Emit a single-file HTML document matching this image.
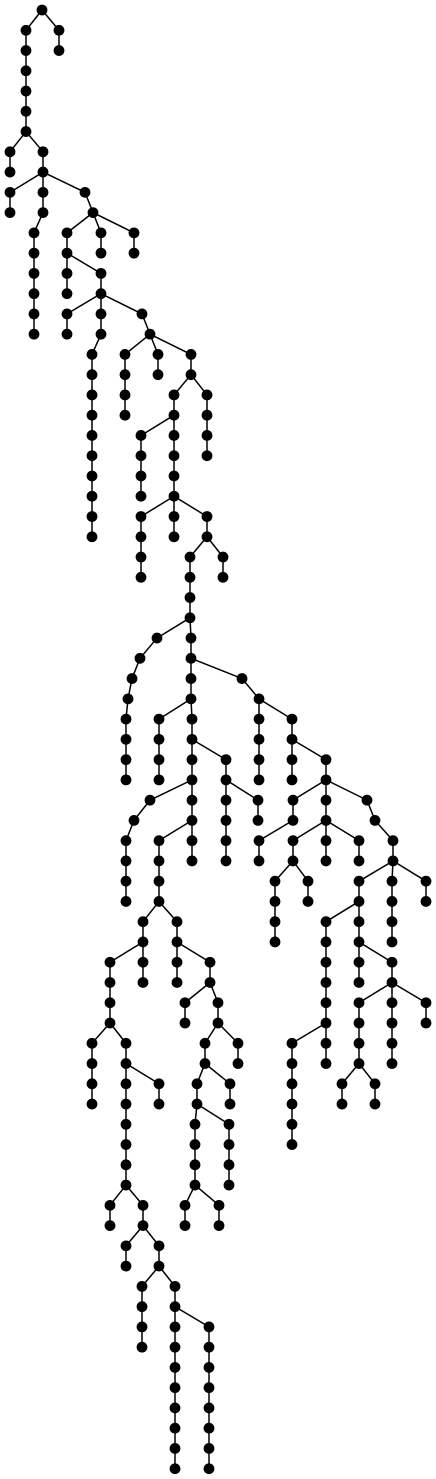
<!DOCTYPE html>
<html><head><meta charset="utf-8"><style>
html,body{margin:0;padding:0;background:#fff;}
svg{display:block;}
</style></head><body>
<svg id="tree" width="436" height="1479" viewBox="0 0 436 1479" xmlns="http://www.w3.org/2000/svg">
<g id="edges"></g>
<g id="nodes"></g>
</svg>
<script>
const X = [];
const D = [];
const P = [];
function add(x,d,p){X.push(x);D.push(d);P.push(p);return X.length-1;}
function chain(p,x,d,n){let l=p;for(let i=0;i<n;i++)l=add(x,d+i,l);return l;}

const r=add(42,0,-1);
chain(r,59,1,2);
const c6=chain(r,26,1,6);
chain(c6,10,7,2);
const n8=chain(c6,43,7,2);
chain(n8,10,9,2);
const n10=chain(n8,43,9,2);
chain(n10,34,11,6);
const n9b=add(85,9,n8);
const n10b=add(93,10,n9b);
const x12=chain(n10b,67,11,2);
chain(x12,67,13,2);
chain(n10b,101,11,2);
chain(n10b,134,11,2);
const y14=chain(x12,101,13,2);
chain(y14,67,15,2);
const z16=chain(y14,101,15,2);
chain(z16,92,17,10);
const w15=add(142,15,y14);
const w16=add(150,16,w15);
chain(w16,125,17,4);
chain(w16,158,17,2);
const v18=chain(w16,191,17,2);
chain(v18,207,19,4);
const u20=chain(v18,174,19,2);
chain(u20,141,21,4);
const s24=chain(u20,174,21,4);
chain(s24,141,25,4);
chain(s24,174,25,2);
const q26=chain(s24,207,25,2);
chain(q26,223,27,2);
const p30=chain(q26,190,27,4);
let k=add(157,31,p30);k=add(140,32,k);k=add(132,33,k);k=add(128,34,k);chain(k,126,35,4);
const m32=chain(p30,191,31,2);
const R33=add(242,33,m32);
const R34=add(259,34,R33);
const m34=chain(m32,191,33,2);
chain(m34,159,35,4);
const m36=chain(m34,192,35,2);
const n38=chain(m36,226,37,2);
chain(n38,226,39,4);chain(n38,258,39,2);
const m38=chain(m36,192,37,2);
k=add(150,39,m38);k=add(134,40,k);chain(k,126,41,4);
const m40=chain(m38,192,39,2);
chain(m40,192,41,2);
const h44=chain(m40,159,41,4);
const g46=chain(h44,143,45,2);
chain(g46,143,47,2);
const f50=chain(g46,110,47,4);
chain(f50,92,51,4);
const e52=chain(f50,126,51,2);
chain(e52,159,53,2);
const e58=chain(e52,126,53,6);
chain(e58,110,59,2);
const e60=chain(e58,143,59,2);
chain(e60,126,61,2);
const e62=chain(e60,159,61,2);
chain(e62,142,63,4);
const e64=chain(e62,175,63,2);
chain(e64,175,65,8);chain(e64,209,65,8);
const j46=chain(h44,177,45,2);
chain(j46,177,47,2);
const j48=chain(j46,210,47,2);
chain(j48,185,49,2);
const j50=chain(j48,218,49,2);
chain(j50,238,51,2);
const j52=chain(j50,205,51,2);
chain(j52,230,53,2);
const j54=chain(j52,197,53,2);
const j58=chain(j54,195,55,4);
chain(j58,185,59,2);chain(j58,219,59,2);
chain(j54,229,55,4);
chain(R34,259,35,4);
const R36=chain(R34,292,35,2);
chain(R36,292,37,2);
const R38=chain(R36,326,37,2);
k=chain(R38,293,39,2);chain(k,259,41,2);
const R40=chain(R38,326,39,2);
const T42=chain(R40,293,41,2);
chain(T42,275,43,4);chain(T42,308,43,2);
chain(R40,326,41,2);
chain(R40,359,41,2);
k=add(367,39,R38);k=add(375,40,k);
const S42=chain(k,393,41,2);
chain(S42,426,43,2);
chain(S42,392,43,4);
const S44=chain(S42,359,43,2);
const U50=chain(S44,326,45,6);
chain(U50,292,51,6);chain(U50,326,51,2);
const V46=chain(S44,359,45,2);
chain(V46,359,47,2);
const V48=chain(V46,392,47,2);
chain(V48,426,49,2);
chain(V48,392,49,4);
const V52=chain(V48,359,49,4);
chain(V52,342,53,2);chain(V52,375,53,2);

const NS="http://www.w3.org/2000/svg";
function yOf(d){return 10+d*20.26;}
const eg=document.getElementById('edges'), ng=document.getElementById('nodes');
for(let i=0;i<X.length;i++){
  if(P[i]>=0){
    const l=document.createElementNS(NS,'line');
    l.setAttribute('x1',X[P[i]]);l.setAttribute('y1',yOf(D[P[i]]));
    l.setAttribute('x2',X[i]);l.setAttribute('y2',yOf(D[i]));
    l.setAttribute('stroke','#000');l.setAttribute('stroke-width','1.5');
    
    
    eg.appendChild(l);
  }
}
for(let i=0;i<X.length;i++){
  const c=document.createElementNS(NS,'circle');
  c.setAttribute('cx',X[i]);c.setAttribute('cy',yOf(D[i]));c.setAttribute('r','5.4');
  c.setAttribute('fill','#000');
  
  
  ng.appendChild(c);
}
</script>
</body></html>
